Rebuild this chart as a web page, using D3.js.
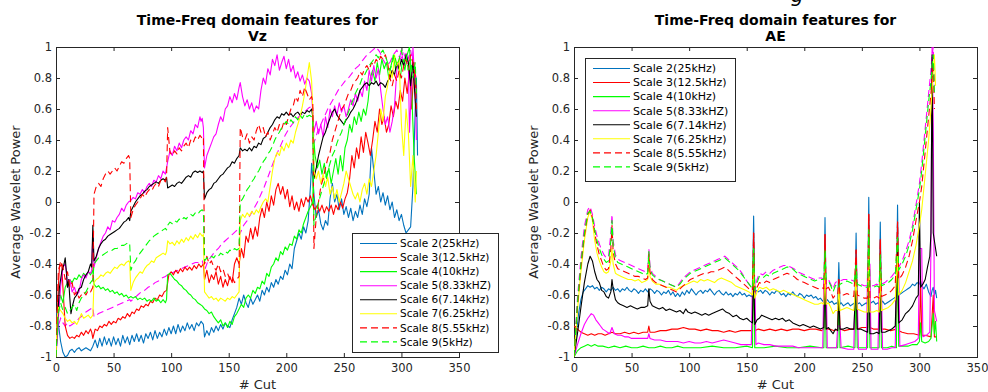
<!DOCTYPE html>
<html><head><meta charset="utf-8">
<script src="https://cdn.jsdelivr.net/npm/d3@7"></script>
<style>body{margin:0;background:#fff}svg{display:block}text{font-family:"DejaVu Sans",sans-serif}</style>
</head><body><svg id="c" width="988" height="392"></svg>
<script>
// ---------- tick labels / categories ----------
const xTickValues=[0,50,100,150,200,250,300,350];
const yTickValues=[-1,-0.8,-0.6,-0.4,-0.2,0,0.2,0.4,0.6,0.8,1];
const legendNames=["Scale 2(25kHz)","Scale 3(12.5kHz)","Scale 4(10kHz)","Scale 5(8.33kHZ)","Scale 6(7.14kHz)","Scale 7(6.25kHz)","Scale 8(5.55kHz)","Scale 9(5kHz)"];
const titleVz=["Time-Freq domain features for","Vz"];
const titleAE=["Time-Freq domain features for","AE"];

// ---------- Vz series: [cut, average wavelet power] ----------
const vzS2=[[0,-0.7],[2,-0.78],[4,-0.9],[6,-0.97],[8,-1.0],[10,-0.99],[12,-0.96],[14,-0.95],[16,-0.97],[18,-0.95],[20,-0.94],[22,-0.96],[24,-0.95],[26,-0.94],[28,-0.95],[30,-0.96],[32,-0.93],[34,-0.89],[36,-0.94],[38,-0.88],[40,-0.93],[42,-0.87],[44,-0.92],[46,-0.88],[48,-0.93],[50,-0.87],[52,-0.92],[54,-0.88],[56,-0.93],[58,-0.86],[60,-0.91],[62,-0.87],[64,-0.92],[66,-0.86],[68,-0.9],[70,-0.85],[72,-0.9],[74,-0.86],[76,-0.91],[78,-0.85],[80,-0.88],[82,-0.84],[84,-0.89],[86,-0.83],[88,-0.88],[90,-0.84],[92,-0.87],[94,-0.82],[96,-0.86],[98,-0.81],[100,-0.85],[102,-0.8],[104,-0.85],[106,-0.79],[108,-0.84],[110,-0.8],[112,-0.83],[114,-0.78],[116,-0.82],[118,-0.79],[120,-0.83],[122,-0.78],[124,-0.8],[126,-0.77],[128,-0.79],[129,-0.87],[131,-0.83],[133,-0.86],[135,-0.81],[137,-0.84],[139,-0.8],[141,-0.83],[143,-0.79],[145,-0.82],[147,-0.78],[149,-0.8],[151,-0.81],[153,-0.76],[155,-0.72],[157,-0.68],[159,-0.62],[161,-0.66],[163,-0.6],[165,-0.65],[167,-0.68],[169,-0.62],[171,-0.66],[173,-0.63],[175,-0.6],[177,-0.64],[179,-0.57],[181,-0.6],[183,-0.55],[185,-0.58],[187,-0.52],[189,-0.55],[191,-0.5],[193,-0.53],[195,-0.48],[197,-0.5],[199,-0.44],[201,-0.47],[203,-0.4],[205,-0.43],[207,-0.3],[209,-0.25],[211,-0.2],[213,-0.24],[215,-0.16],[217,-0.2],[219,-0.12],[221,0.1],[222,0.25],[224,0.05],[226,-0.1],[228,-0.05],[230,-0.14],[232,-0.18],[234,-0.12],[236,-0.15],[238,0.02],[240,0.12],[242,0.0],[244,0.05],[246,-0.05],[248,0.02],[250,-0.08],[252,-0.03],[254,-0.1],[256,-0.04],[258,-0.12],[260,-0.06],[262,-0.1],[264,-0.02],[266,-0.08],[268,0.02],[270,-0.03],[272,0.05],[274,0.35],[276,0.2],[278,0.05],[280,0.1],[282,0.0],[284,0.06],[286,-0.02],[288,0.04],[290,-0.05],[292,0.0],[294,-0.1],[296,-0.05],[298,-0.12],[300,-0.08],[302,-0.15],[304,-0.2],[306,-0.18],[308,-0.16],[310,0.1],[312,0.6],[313,0.8],[314,0.3]];
const vzS3=[[0,-1.0],[2,-0.55],[3,-0.42],[5,-0.4],[6,-0.55],[8,-0.8],[10,-0.86],[12,-0.88],[14,-0.87],[16,-0.88],[18,-0.86],[20,-0.87],[22,-0.84],[24,-0.86],[26,-0.83],[28,-0.85],[30,-0.82],[31,-0.84],[32,-0.88],[34,-0.82],[36,-0.83],[38,-0.8],[40,-0.81],[42,-0.79],[44,-0.8],[46,-0.77],[48,-0.79],[50,-0.77],[52,-0.78],[54,-0.75],[56,-0.76],[58,-0.74],[60,-0.75],[62,-0.72],[64,-0.74],[66,-0.71],[68,-0.72],[70,-0.69],[72,-0.7],[74,-0.67],[76,-0.68],[78,-0.66],[80,-0.67],[82,-0.64],[84,-0.65],[86,-0.62],[88,-0.63],[90,-0.6],[92,-0.61],[94,-0.58],[96,-0.57],[98,-0.47],[100,-0.45],[102,-0.47],[104,-0.44],[106,-0.46],[108,-0.43],[110,-0.45],[112,-0.42],[114,-0.44],[116,-0.42],[118,-0.44],[120,-0.41],[122,-0.43],[124,-0.4],[126,-0.42],[128,-0.4],[129,-0.5],[131,-0.44],[133,-0.52],[135,-0.47],[137,-0.5],[139,-0.45],[141,-0.53],[143,-0.48],[145,-0.55],[147,-0.5],[149,-0.54],[151,-0.48],[153,-0.52],[155,-0.4],[157,-0.36],[159,-0.4],[161,-0.3],[163,-0.36],[165,-0.22],[167,-0.26],[169,-0.17],[171,-0.24],[173,-0.16],[175,-0.22],[177,-0.1],[179,-0.04],[181,-0.1],[183,0.0],[185,-0.06],[187,0.04],[189,-0.02],[191,0.08],[193,0.12],[195,0.05],[197,0.1],[199,0.02],[201,0.08],[203,-0.03],[205,0.04],[207,-0.05],[209,0.0],[211,-0.06],[213,0.02],[215,-0.03],[217,0.03],[219,0.0],[221,0.04],[223,-0.02],[225,-0.05],[227,-0.02],[229,-0.06],[231,-0.02],[233,-0.07],[235,-0.03],[237,-0.06],[239,-0.02],[241,-0.08],[243,-0.02],[245,-0.05],[247,0.0],[249,-0.04],[251,0.02],[253,0.06],[255,0.15],[257,0.3],[259,0.22],[261,0.35],[263,0.28],[265,0.42],[267,0.32],[269,0.45],[271,0.38],[273,0.3],[275,0.4],[277,0.52],[279,0.45],[281,0.6],[283,0.5],[285,0.55],[287,0.45],[289,0.5],[291,0.62],[293,0.55],[295,0.65],[297,0.6],[299,0.72],[301,0.65],[303,0.8],[305,0.7],[307,0.85],[309,0.6],[311,0.9],[313,0.7]];
const vzS4=[[0,-1.0],[1,-0.8],[2,-0.68],[4,-0.6],[6,-0.65],[8,-0.55],[10,-0.52],[12,-0.5],[14,-0.52],[16,-0.49],[18,-0.5],[20,-0.47],[22,-0.49],[24,-0.46],[26,-0.48],[28,-0.45],[30,-0.47],[32,-0.44],[33,-0.53],[35,-0.55],[37,-0.54],[39,-0.56],[41,-0.55],[43,-0.57],[45,-0.56],[47,-0.58],[49,-0.57],[51,-0.59],[53,-0.58],[55,-0.6],[57,-0.59],[59,-0.61],[61,-0.6],[63,-0.62],[65,-0.61],[67,-0.62],[69,-0.61],[71,-0.63],[73,-0.62],[75,-0.63],[77,-0.62],[79,-0.64],[81,-0.63],[83,-0.64],[85,-0.62],[87,-0.64],[89,-0.63],[91,-0.65],[93,-0.63],[95,-0.65],[96,-0.63],[97,-0.47],[99,-0.46],[101,-0.48],[103,-0.5],[105,-0.51],[107,-0.53],[109,-0.54],[111,-0.56],[113,-0.57],[115,-0.59],[117,-0.6],[119,-0.62],[121,-0.63],[123,-0.65],[125,-0.66],[127,-0.67],[129,-0.69],[131,-0.7],[133,-0.72],[135,-0.71],[137,-0.74],[139,-0.76],[141,-0.78],[143,-0.76],[145,-0.8],[147,-0.78],[149,-0.81],[151,-0.77],[153,-0.79],[155,-0.74],[157,-0.72],[159,-0.69],[161,-0.66],[163,-0.68],[165,-0.62],[167,-0.6],[169,-0.62],[171,-0.57],[173,-0.59],[175,-0.55],[177,-0.56],[179,-0.51],[181,-0.53],[183,-0.46],[185,-0.48],[187,-0.42],[189,-0.4],[191,-0.36],[193,-0.38],[195,-0.32],[197,-0.34],[199,-0.29],[201,-0.31],[203,-0.27],[205,-0.28],[207,-0.22],[209,-0.24],[211,-0.18],[213,-0.2],[215,-0.14],[217,-0.1],[219,-0.06],[221,-0.03],[223,0.0],[224,0.4],[225,0.3],[227,0.22],[229,0.27],[231,0.18],[233,0.25],[235,0.15],[237,0.22],[239,0.12],[241,0.2],[243,0.28],[245,0.18],[247,0.3],[249,0.2],[251,0.35],[253,0.4],[255,0.5],[257,0.45],[259,0.55],[261,0.5],[263,0.58],[265,0.52],[267,0.6],[269,0.56],[271,0.65],[273,0.8],[275,0.85],[277,0.78],[279,0.9],[281,0.82],[283,0.92],[285,0.86],[287,0.9],[289,0.8],[291,0.88],[293,0.95],[295,0.85],[297,0.9],[299,0.8],[301,0.92],[303,0.85],[305,0.95],[307,1.0],[309,0.7],[311,0.3],[313,0.05]];
const vzS5=[[0,-1.0],[2,-0.75],[4,-0.55],[6,-0.42],[8,-0.4],[9,-0.45],[10,-0.55],[12,-0.5],[14,-0.58],[16,-0.55],[18,-0.6],[20,-0.58],[22,-0.5],[24,-0.47],[26,-0.49],[28,-0.45],[30,-0.46],[31,-0.44],[32,-0.2],[33,-0.42],[35,-0.36],[37,-0.3],[39,-0.26],[41,-0.22],[43,-0.2],[45,-0.16],[47,-0.18],[49,-0.12],[51,-0.13],[53,-0.1],[55,-0.08],[57,-0.04],[59,-0.06],[61,-0.02],[63,0.0],[65,0.01],[67,0.03],[69,0.02],[71,0.06],[73,0.05],[75,0.08],[77,0.06],[79,0.1],[81,0.12],[83,0.1],[85,0.14],[87,0.13],[89,0.17],[91,0.15],[93,0.2],[95,0.18],[97,0.26],[99,0.33],[101,0.3],[103,0.36],[105,0.33],[107,0.38],[109,0.35],[111,0.4],[113,0.42],[115,0.4],[117,0.46],[119,0.44],[121,0.5],[123,0.48],[125,0.55],[126,0.52],[127,0.54],[128,0.48],[129,0.22],[131,0.3],[133,0.34],[135,0.38],[137,0.42],[139,0.44],[141,0.5],[143,0.55],[145,0.52],[147,0.6],[149,0.62],[151,0.68],[153,0.64],[155,0.7],[157,0.66],[159,0.74],[160,0.77],[162,0.68],[164,0.62],[166,0.66],[168,0.6],[170,0.64],[172,0.58],[174,0.62],[176,0.6],[178,0.72],[180,0.8],[182,0.76],[184,0.86],[186,0.82],[188,0.92],[190,0.88],[192,0.95],[194,0.85],[196,0.9],[198,0.94],[200,0.86],[202,0.92],[204,0.84],[206,0.88],[208,0.8],[210,0.84],[212,0.78],[214,0.82],[216,0.76],[218,0.8],[220,0.78],[222,0.7],[224,0.45],[226,0.52],[228,0.44],[230,0.5],[232,0.42],[234,0.55],[236,0.48],[238,0.6],[240,0.55],[242,0.62],[244,0.56],[246,0.64],[248,0.58],[250,0.62],[252,0.55],[254,0.6],[256,0.66],[258,0.62],[260,0.7],[262,0.65],[264,0.72],[266,0.68],[268,0.78],[270,0.72],[272,0.85],[274,0.78],[276,0.88],[278,0.8],[280,0.86],[282,0.72],[284,0.6],[286,0.5],[288,0.55],[290,0.45],[292,0.52],[294,0.62],[296,0.85],[298,0.92],[300,0.98],[302,0.88],[304,0.96],[306,0.9],[307,0.45],[309,0.8],[310,1.0],[312,0.7],[313,0.4]];
const vzS6=[[0,-1.0],[1,-0.8],[3,-0.55],[5,-0.45],[7,-0.4],[8,-0.36],[9,-0.45],[10,-0.55],[11,-0.5],[12,-0.62],[13,-0.72],[14,-0.68],[16,-0.62],[18,-0.6],[20,-0.56],[22,-0.55],[24,-0.5],[26,-0.47],[28,-0.45],[30,-0.4],[31,-0.42],[32,-0.15],[33,-0.38],[35,-0.35],[37,-0.3],[39,-0.27],[41,-0.25],[43,-0.24],[45,-0.22],[47,-0.21],[49,-0.2],[51,-0.19],[53,-0.18],[55,-0.17],[57,-0.15],[59,-0.13],[61,-0.12],[63,-0.1],[64,-0.12],[65,-0.06],[67,-0.03],[69,0.0],[71,0.02],[73,0.04],[75,0.05],[77,0.07],[79,0.08],[81,0.1],[83,0.11],[85,0.12],[87,0.13],[89,0.12],[91,0.14],[93,0.15],[95,0.14],[96,0.16],[97,0.09],[99,0.1],[101,0.11],[103,0.1],[105,0.12],[107,0.13],[109,0.12],[111,0.14],[113,0.16],[115,0.17],[117,0.16],[119,0.19],[121,0.2],[123,0.19],[125,0.2],[127,0.19],[128,0.2],[129,0.02],[131,0.06],[133,0.08],[135,0.09],[137,0.12],[139,0.13],[141,0.15],[143,0.17],[145,0.18],[147,0.2],[149,0.22],[151,0.23],[153,0.26],[155,0.25],[157,0.28],[159,0.3],[160,0.35],[162,0.33],[164,0.34],[166,0.33],[168,0.35],[170,0.33],[172,0.36],[174,0.35],[176,0.38],[178,0.37],[180,0.41],[182,0.42],[184,0.45],[186,0.48],[188,0.5],[190,0.53],[192,0.55],[194,0.54],[196,0.57],[198,0.56],[200,0.58],[202,0.56],[204,0.57],[206,0.55],[208,0.57],[210,0.58],[212,0.56],[214,0.58],[216,0.57],[218,0.59],[220,0.58],[222,0.6],[223,0.55],[224,0.15],[226,0.22],[228,0.3],[230,0.36],[232,0.42],[234,0.45],[236,0.5],[238,0.54],[240,0.58],[242,0.6],[244,0.56],[246,0.54],[248,0.52],[250,0.5],[252,0.53],[254,0.55],[256,0.58],[258,0.6],[260,0.63],[262,0.67],[264,0.72],[266,0.74],[268,0.76],[270,0.77],[272,0.75],[274,0.77],[276,0.76],[278,0.78],[280,0.75],[282,0.77],[284,0.76],[286,0.74],[288,0.78],[290,0.8],[292,0.85],[294,0.82],[296,0.9],[298,0.86],[300,0.92],[302,0.88],[304,0.95],[306,0.9],[308,0.75],[310,0.9],[312,0.65],[313,0.55]];
const vzS7=[[0,-1.0],[1,-0.75],[2,-0.68],[4,-0.7],[6,-0.72],[8,-0.75],[10,-0.77],[12,-0.76],[14,-0.78],[16,-0.77],[18,-0.79],[20,-0.76],[22,-0.72],[24,-0.75],[26,-0.74],[28,-0.73],[30,-0.75],[32,-0.73],[33,-0.52],[35,-0.5],[37,-0.49],[39,-0.47],[41,-0.48],[43,-0.46],[45,-0.45],[47,-0.46],[49,-0.44],[51,-0.42],[53,-0.43],[55,-0.41],[57,-0.4],[59,-0.41],[61,-0.39],[63,-0.38],[64,-0.39],[65,-0.57],[67,-0.52],[69,-0.49],[71,-0.47],[73,-0.45],[75,-0.46],[77,-0.43],[79,-0.41],[81,-0.4],[83,-0.38],[85,-0.39],[87,-0.36],[89,-0.35],[91,-0.34],[93,-0.33],[95,-0.34],[96,-0.32],[97,-0.25],[99,-0.27],[101,-0.26],[103,-0.28],[105,-0.25],[107,-0.27],[109,-0.24],[111,-0.26],[113,-0.23],[115,-0.25],[117,-0.22],[119,-0.24],[121,-0.21],[123,-0.23],[125,-0.2],[127,-0.22],[128,-0.21],[129,-0.58],[131,-0.6],[133,-0.62],[135,-0.61],[137,-0.63],[139,-0.62],[141,-0.64],[143,-0.62],[145,-0.63],[147,-0.64],[149,-0.62],[151,-0.63],[153,-0.61],[155,-0.62],[157,-0.6],[159,-0.58],[160,-0.12],[162,-0.08],[164,-0.1],[166,-0.07],[168,-0.09],[170,-0.06],[172,-0.08],[174,-0.05],[176,-0.07],[178,-0.03],[180,0.0],[182,0.02],[184,0.0],[186,0.1],[188,0.2],[190,0.28],[192,0.32],[194,0.3],[196,0.36],[198,0.33],[200,0.38],[202,0.35],[204,0.4],[206,0.38],[208,0.45],[210,0.5],[212,0.55],[214,0.62],[216,0.7],[218,0.8],[220,0.9],[222,0.78],[223,0.6],[224,0.2],[226,0.15],[228,0.2],[230,0.12],[232,0.18],[234,0.1],[236,0.16],[238,0.05],[240,0.1],[242,0.02],[244,0.08],[246,0.0],[248,0.06],[250,0.12],[252,0.2],[254,0.15],[256,0.1],[258,0.05],[260,0.02],[262,0.06],[264,0.0],[266,0.08],[268,0.12],[270,0.05],[272,0.15],[274,0.1],[276,0.2],[278,0.3],[280,0.45],[282,0.6],[284,0.52],[286,0.68],[288,0.75],[290,0.85],[292,0.8],[294,0.95],[296,0.88],[298,0.92],[300,0.5],[302,0.3],[304,0.6],[306,0.45],[308,0.1],[310,0.3],[312,0.0],[313,0.2]];
const vzS8=[[0,-1.0],[1,-0.7],[2,-0.45],[4,-0.38],[6,-0.42],[8,-0.5],[10,-0.45],[12,-0.55],[14,-0.52],[16,-0.6],[18,-0.58],[20,-0.62],[22,-0.6],[24,-0.58],[26,-0.6],[28,-0.57],[30,-0.58],[32,-0.55],[33,0.05],[35,0.1],[37,0.12],[39,0.1],[41,0.15],[43,0.18],[45,0.2],[47,0.18],[49,0.2],[51,0.22],[53,0.2],[55,0.23],[57,0.26],[59,0.25],[61,0.28],[63,0.3],[64,0.28],[65,-0.1],[67,-0.05],[69,-0.02],[71,0.0],[73,0.02],[75,0.05],[77,0.03],[79,0.06],[81,0.08],[83,0.07],[85,0.1],[87,0.12],[89,0.1],[91,0.14],[93,0.15],[95,0.13],[96,0.16],[97,0.48],[99,0.32],[101,0.3],[103,0.33],[105,0.31],[107,0.35],[109,0.33],[111,0.36],[113,0.38],[115,0.35],[117,0.4],[119,0.38],[121,0.42],[123,0.4],[125,0.43],[127,0.41],[128,0.42],[129,-0.4],[131,-0.35],[133,-0.4],[135,-0.38],[137,-0.42],[139,-0.44],[141,-0.4],[143,-0.45],[145,-0.43],[147,-0.48],[149,-0.46],[151,-0.5],[153,-0.48],[155,-0.52],[157,-0.5],[159,-0.48],[160,0.48],[162,0.42],[164,0.4],[166,0.44],[168,0.38],[170,0.42],[172,0.4],[174,0.46],[176,0.5],[178,0.45],[180,0.48],[182,0.42],[184,0.45],[186,0.4],[188,0.44],[190,0.48],[192,0.45],[194,0.5],[196,0.47],[198,0.52],[200,0.5],[202,0.55],[204,0.6],[206,0.62],[208,0.68],[210,0.65],[212,0.72],[214,0.68],[216,0.74],[218,0.7],[220,0.66],[222,0.68],[223,0.65],[224,-0.3],[226,-0.1],[228,0.0],[230,0.1],[232,0.15],[234,0.22],[236,0.28],[238,0.32],[240,0.4],[242,0.45],[244,0.5],[246,0.55],[248,0.6],[250,0.62],[252,0.66],[254,0.7],[256,0.72],[258,0.76],[260,0.78],[262,0.8],[264,0.84],[266,0.82],[268,0.86],[270,0.88],[272,0.85],[274,0.9],[276,0.88],[278,0.92],[280,0.9],[282,0.94],[284,0.92],[286,0.95],[288,0.9],[290,0.8],[292,0.75],[294,0.82],[296,0.78],[298,0.85],[300,0.8],[302,0.88],[304,0.92],[306,0.85],[308,0.95],[310,0.9],[312,0.8],[313,0.6]];
const vzS9=[[0,-1.0],[1,-0.85],[2,-0.72],[4,-0.65],[6,-0.7],[8,-0.68],[10,-0.72],[12,-0.7],[14,-0.68],[16,-0.66],[18,-0.7],[20,-0.65],[22,-0.62],[24,-0.6],[26,-0.58],[28,-0.55],[30,-0.52],[32,-0.5],[33,-0.4],[35,-0.38],[37,-0.36],[39,-0.35],[41,-0.34],[43,-0.33],[45,-0.32],[47,-0.32],[49,-0.31],[51,-0.3],[53,-0.3],[55,-0.29],[57,-0.28],[59,-0.28],[61,-0.27],[63,-0.26],[64,-0.27],[65,-0.44],[67,-0.4],[69,-0.38],[71,-0.35],[73,-0.33],[75,-0.31],[77,-0.29],[79,-0.27],[81,-0.25],[83,-0.24],[85,-0.22],[87,-0.21],[89,-0.2],[91,-0.19],[93,-0.18],[95,-0.17],[96,-0.18],[97,-0.15],[99,-0.13],[101,-0.14],[103,-0.12],[105,-0.13],[107,-0.11],[109,-0.12],[111,-0.1],[113,-0.11],[115,-0.09],[117,-0.08],[119,-0.09],[121,-0.07],[123,-0.08],[125,-0.06],[127,-0.05],[128,-0.06],[129,-0.38],[131,-0.36],[133,-0.37],[135,-0.35],[137,-0.36],[139,-0.34],[141,-0.35],[143,-0.33],[145,-0.34],[147,-0.32],[149,-0.33],[151,-0.31],[153,-0.32],[155,-0.3],[157,-0.31],[159,-0.3],[160,0.0],[162,0.02],[164,0.05],[166,0.08],[168,0.1],[170,0.13],[172,0.15],[174,0.18],[176,0.2],[178,0.23],[180,0.26],[182,0.28],[184,0.31],[186,0.33],[188,0.36],[190,0.4],[192,0.43],[194,0.45],[196,0.48],[198,0.5],[200,0.52],[202,0.5],[204,0.53],[206,0.51],[208,0.55],[210,0.53],[212,0.56],[214,0.54],[216,0.57],[218,0.55],[220,0.56],[222,0.55],[223,0.54],[224,-0.15],[226,-0.08],[228,0.0],[230,0.05],[232,0.1],[234,0.15],[236,0.2],[238,0.25],[240,0.3],[242,0.33],[244,0.38],[246,0.42],[248,0.45],[250,0.5],[252,0.54],[254,0.58],[256,0.62],[258,0.66],[260,0.7],[262,0.73],[264,0.76],[266,0.8],[268,0.82],[270,0.85],[272,0.88],[274,0.9],[276,0.92],[278,0.95],[280,0.93],[282,0.96],[284,0.98],[286,0.94],[288,0.9],[290,0.85],[292,0.9],[294,0.95],[296,0.88],[298,0.92],[300,0.98],[302,0.9],[304,0.95],[306,0.85],[308,0.92],[310,0.8],[312,0.9],[313,0.7]];
const vzExtra=[[0,-1.0],[2,-0.8],[4,-0.75],[6,-0.78],[8,-0.8],[10,-0.78],[12,-0.8],[14,-0.79],[16,-0.78],[18,-0.77],[20,-0.75],[22,-0.74],[24,-0.72],[26,-0.71],[28,-0.7],[30,-0.69],[32,-0.68],[33,-0.74],[35,-0.73],[37,-0.72],[40,-0.71],[43,-0.7],[46,-0.69],[49,-0.68],[52,-0.67],[55,-0.66],[58,-0.65],[61,-0.64],[64,-0.63],[65,-0.64],[68,-0.62],[71,-0.6],[74,-0.58],[77,-0.57],[80,-0.55],[83,-0.54],[86,-0.52],[89,-0.51],[92,-0.49],[95,-0.48],[97,-0.47],[100,-0.46],[103,-0.45],[106,-0.44],[109,-0.43],[112,-0.42],[115,-0.41],[118,-0.4],[121,-0.39],[124,-0.39],[127,-0.38],[129,-0.44],[132,-0.38],[135,-0.35],[138,-0.32],[141,-0.3],[144,-0.27],[147,-0.25],[150,-0.23],[153,-0.21],[156,-0.19],[159,-0.17],[160,-0.2],[163,-0.15],[166,-0.12],[169,-0.08],[172,-0.04],[175,0.0],[178,0.05],[181,0.1],[184,0.16],[187,0.22],[190,0.28],[193,0.33],[196,0.38],[199,0.43],[202,0.47],[205,0.5],[208,0.53],[211,0.55],[214,0.57],[217,0.59],[220,0.61],[223,0.62],[224,0.38],[227,0.45],[230,0.5],[233,0.55],[236,0.6],[239,0.64],[242,0.68],[245,0.72],[248,0.75],[251,0.78],[254,0.8],[257,0.83],[260,0.86],[263,0.88],[266,0.91],[269,0.94],[272,0.96],[275,0.98],[278,1.0],[281,0.97],[284,0.92],[287,0.88],[290,0.9],[293,0.95],[296,0.98],[299,0.92],[302,0.96],[305,0.9],[308,0.98],[311,0.85],[313,0.8]];

// ---------- AE series: [cut, average wavelet power] ----------
const aeS2=[[0,-1.0],[2,-0.85],[4,-0.72],[6,-0.63],[8,-0.58],[10,-0.56],[12,-0.54],[14,-0.55],[16,-0.54],[18,-0.56],[20,-0.55],[22,-0.57],[24,-0.55],[26,-0.56],[28,-0.58],[30,-0.56],[32,-0.57],[34,-0.55],[36,-0.57],[38,-0.56],[40,-0.58],[42,-0.56],[44,-0.57],[46,-0.55],[48,-0.57],[50,-0.58],[52,-0.56],[54,-0.57],[56,-0.59],[58,-0.57],[60,-0.58],[62,-0.56],[64,-0.58],[66,-0.56],[68,-0.57],[70,-0.59],[72,-0.57],[74,-0.58],[76,-0.6],[78,-0.58],[80,-0.59],[82,-0.57],[84,-0.6],[86,-0.58],[88,-0.61],[90,-0.59],[92,-0.61],[94,-0.58],[96,-0.6],[98,-0.57],[100,-0.59],[102,-0.56],[104,-0.58],[106,-0.6],[108,-0.58],[110,-0.57],[112,-0.59],[114,-0.57],[116,-0.58],[118,-0.56],[120,-0.58],[122,-0.6],[124,-0.58],[126,-0.57],[128,-0.59],[130,-0.6],[132,-0.58],[134,-0.6],[136,-0.59],[138,-0.61],[140,-0.59],[142,-0.6],[144,-0.58],[146,-0.6],[148,-0.59],[150,-0.61],[152,-0.6],[154,-0.61],[155,-0.6],[156,-0.09],[157,-0.6],[158,-0.57],[160,-0.58],[162,-0.57],[164,-0.59],[166,-0.57],[168,-0.58],[170,-0.6],[172,-0.58],[174,-0.59],[176,-0.57],[178,-0.58],[180,-0.6],[182,-0.59],[184,-0.61],[186,-0.59],[188,-0.6],[190,-0.58],[192,-0.6],[194,-0.61],[196,-0.59],[198,-0.6],[200,-0.62],[202,-0.6],[204,-0.61],[206,-0.6],[208,-0.62],[210,-0.61],[212,-0.63],[214,-0.62],[216,-0.64],[217,-0.63],[218,-0.1],[219,-0.64],[220,-0.63],[222,-0.65],[224,-0.64],[226,-0.66],[228,-0.65],[229,-0.66],[230,-0.39],[231,-0.66],[232,-0.65],[234,-0.67],[236,-0.66],[238,-0.65],[240,-0.67],[242,-0.66],[244,-0.65],[245,-0.2],[246,-0.66],[248,-0.65],[250,-0.67],[252,-0.66],[254,-0.65],[255,-0.66],[256,0.03],[257,-0.66],[258,-0.65],[260,-0.64],[262,-0.66],[264,-0.65],[265,-0.66],[266,-0.13],[267,-0.65],[268,-0.64],[270,-0.66],[272,-0.65],[274,-0.64],[276,-0.63],[278,-0.62],[280,-0.61],[281,-0.02],[282,-0.6],[284,-0.59],[286,-0.58],[288,-0.57],[290,-0.56],[292,-0.55],[294,-0.53],[296,-0.54],[298,-0.52],[300,-0.53],[301,-0.51],[302,-0.54],[304,-0.56],[306,-0.53],[308,-0.58],[310,-0.61],[311,-0.57],[312,-0.55],[313,-0.6],[314,-0.57],[315,-0.62]];
const aeS3=[[0,-0.8],[3,-0.82],[6,-0.84],[9,-0.85],[12,-0.86],[15,-0.85],[18,-0.86],[21,-0.85],[24,-0.85],[27,-0.86],[30,-0.85],[33,-0.84],[36,-0.85],[40,-0.85],[44,-0.84],[48,-0.85],[52,-0.84],[56,-0.85],[60,-0.84],[64,-0.84],[65,-0.8],[66,-0.84],[70,-0.84],[75,-0.83],[80,-0.83],[85,-0.82],[90,-0.82],[95,-0.81],[100,-0.82],[105,-0.82],[110,-0.83],[115,-0.82],[120,-0.83],[125,-0.83],[130,-0.84],[135,-0.83],[140,-0.84],[145,-0.83],[150,-0.83],[155,-0.83],[156,-0.2],[157,-0.83],[160,-0.82],[165,-0.83],[170,-0.82],[175,-0.83],[180,-0.82],[185,-0.83],[190,-0.82],[195,-0.82],[200,-0.83],[205,-0.82],[210,-0.82],[215,-0.83],[217,-0.82],[218,-0.21],[219,-0.82],[222,-0.82],[226,-0.83],[229,-0.82],[230,-0.5],[231,-0.82],[235,-0.83],[240,-0.82],[244,-0.82],[245,-0.31],[246,-0.82],[250,-0.81],[255,-0.81],[256,-0.08],[257,-0.81],[260,-0.82],[265,-0.82],[266,-0.24],[267,-0.82],[270,-0.82],[275,-0.83],[280,-0.82],[281,-0.13],[282,-0.83],[285,-0.84],[290,-0.85],[295,-0.85],[300,-0.86],[301,-0.5],[302,-0.86],[305,-0.86],[310,-0.87],[312,-0.6],[313,-0.87],[315,-0.87]];
const aeS4=[[0,-1.0],[3,-0.96],[6,-0.94],[9,-0.93],[12,-0.92],[15,-0.93],[18,-0.92],[21,-0.93],[25,-0.93],[30,-0.94],[35,-0.93],[40,-0.94],[45,-0.93],[50,-0.94],[55,-0.94],[60,-0.93],[65,-0.94],[70,-0.94],[75,-0.93],[80,-0.94],[85,-0.94],[90,-0.93],[95,-0.94],[100,-0.94],[110,-0.94],[120,-0.93],[130,-0.94],[140,-0.94],[150,-0.93],[155,-0.94],[156,-0.3],[157,-0.94],[165,-0.94],[175,-0.93],[185,-0.94],[195,-0.94],[205,-0.93],[215,-0.94],[217,-0.94],[218,-0.31],[219,-0.94],[225,-0.94],[229,-0.94],[230,-0.6],[231,-0.94],[238,-0.93],[244,-0.94],[245,-0.41],[246,-0.94],[250,-0.94],[255,-0.94],[256,-0.18],[257,-0.94],[262,-0.94],[265,-0.94],[266,-0.34],[267,-0.94],[272,-0.94],[276,-0.93],[280,-0.94],[281,-0.23],[282,-0.93],[286,-0.93],[290,-0.93],[294,-0.92],[298,-0.92],[300,-0.9],[301,-0.78],[302,-0.9],[305,-0.91],[308,-0.9],[310,-0.88],[311,-0.8],[312,-0.72],[313,-0.85],[314,-0.77],[315,-0.9]];
const aeS5=[[0,-1.0],[3,-0.92],[6,-0.85],[9,-0.79],[12,-0.75],[15,-0.72],[17,-0.73],[19,-0.76],[21,-0.78],[23,-0.8],[25,-0.82],[27,-0.83],[29,-0.84],[31,-0.85],[33,-0.81],[35,-0.85],[38,-0.86],[41,-0.86],[44,-0.87],[47,-0.87],[50,-0.88],[55,-0.88],[60,-0.88],[64,-0.88],[65,-0.85],[66,-0.88],[70,-0.89],[75,-0.89],[80,-0.9],[85,-0.9],[90,-0.9],[95,-0.91],[100,-0.9],[105,-0.91],[110,-0.91],[115,-0.9],[120,-0.91],[125,-0.9],[130,-0.89],[135,-0.9],[140,-0.91],[145,-0.92],[150,-0.92],[154,-0.92],[155,-0.5],[157,-0.5],[158,-0.92],[160,-0.91],[165,-0.92],[170,-0.92],[175,-0.93],[180,-0.93],[185,-0.93],[190,-0.93],[195,-0.94],[200,-0.94],[205,-0.94],[210,-0.94],[216,-0.94],[217,-0.5],[219,-0.5],[220,-0.94],[225,-0.94],[228,-0.94],[229,-0.8],[231,-0.8],[232,-0.94],[238,-0.95],[243,-0.95],[244,-0.6],[246,-0.6],[247,-0.95],[254,-0.95],[255,-0.4],[257,-0.4],[258,-0.95],[264,-0.95],[265,-0.55],[267,-0.55],[268,-0.95],[272,-0.95],[276,-0.94],[279,-0.94],[280,-0.45],[282,-0.45],[283,-0.93],[288,-0.92],[292,-0.91],[296,-0.9],[299,-0.88],[300,-0.3],[302,-0.3],[303,-0.87],[306,-0.86],[309,-0.84],[310,-0.3],[311,1.0],[312,0.5],[313,-0.7],[315,-0.77]];
const aeS6=[[0,-1.0],[3,-0.85],[6,-0.68],[9,-0.52],[12,-0.4],[14,-0.35],[16,-0.38],[18,-0.45],[20,-0.5],[22,-0.52],[24,-0.57],[26,-0.58],[28,-0.61],[30,-0.62],[32,-0.58],[33,-0.5],[34,-0.56],[36,-0.63],[38,-0.65],[40,-0.66],[43,-0.67],[46,-0.68],[49,-0.67],[52,-0.68],[55,-0.69],[58,-0.68],[61,-0.68],[64,-0.67],[65,-0.56],[66,-0.64],[68,-0.67],[71,-0.68],[74,-0.69],[77,-0.68],[80,-0.7],[83,-0.69],[86,-0.7],[89,-0.71],[92,-0.7],[95,-0.72],[97,-0.69],[99,-0.71],[102,-0.72],[105,-0.71],[108,-0.72],[111,-0.73],[114,-0.72],[117,-0.73],[120,-0.72],[123,-0.71],[126,-0.7],[129,-0.69],[132,-0.71],[135,-0.72],[138,-0.74],[141,-0.73],[144,-0.75],[147,-0.76],[150,-0.75],[153,-0.77],[155,-0.78],[156,-0.4],[157,-0.79],[159,-0.76],[161,-0.75],[163,-0.73],[166,-0.74],[169,-0.75],[172,-0.76],[175,-0.75],[178,-0.76],[181,-0.75],[184,-0.77],[187,-0.76],[190,-0.78],[193,-0.79],[196,-0.8],[199,-0.79],[202,-0.8],[205,-0.81],[208,-0.8],[211,-0.81],[214,-0.82],[217,-0.81],[218,-0.45],[219,-0.82],[221,-0.81],[223,-0.83],[225,-0.85],[227,-0.82],[229,-0.83],[230,-0.6],[231,-0.82],[234,-0.82],[237,-0.81],[240,-0.82],[243,-0.82],[245,-0.5],[246,-0.82],[249,-0.82],[252,-0.83],[255,-0.84],[256,-0.3],[257,-0.85],[260,-0.85],[263,-0.84],[265,-0.85],[266,-0.45],[267,-0.84],[270,-0.84],[273,-0.83],[276,-0.82],[279,-0.8],[281,-0.3],[282,-0.78],[285,-0.76],[288,-0.72],[291,-0.7],[294,-0.67],[297,-0.62],[299,-0.6],[300,0.0],[301,-0.55],[303,-0.53],[305,-0.5],[307,-0.42],[309,-0.35],[310,-0.2],[311,0.95],[312,-0.2],[313,-0.25],[314,-0.3],[315,-0.35]];
const aeS7=[[0,-1.0],[3,-0.7],[6,-0.45],[9,-0.25],[12,-0.1],[14,-0.06],[16,-0.12],[18,-0.25],[20,-0.33],[22,-0.38],[24,-0.42],[26,-0.45],[28,-0.46],[30,-0.45],[32,-0.38],[33,-0.3],[34,-0.4],[36,-0.46],[38,-0.47],[41,-0.48],[44,-0.49],[47,-0.5],[50,-0.5],[53,-0.51],[56,-0.5],[59,-0.52],[62,-0.51],[64,-0.5],[65,-0.38],[66,-0.48],[68,-0.51],[71,-0.53],[74,-0.53],[77,-0.54],[80,-0.55],[83,-0.55],[86,-0.56],[89,-0.57],[92,-0.55],[95,-0.54],[98,-0.53],[101,-0.52],[104,-0.51],[107,-0.52],[110,-0.5],[113,-0.51],[116,-0.5],[119,-0.51],[122,-0.52],[125,-0.5],[128,-0.49],[131,-0.5],[134,-0.51],[137,-0.52],[140,-0.54],[143,-0.55],[146,-0.56],[149,-0.57],[152,-0.58],[155,-0.6],[156,-0.4],[157,-0.62],[159,-0.58],[161,-0.55],[164,-0.56],[167,-0.55],[170,-0.57],[173,-0.56],[176,-0.57],[179,-0.58],[182,-0.57],[185,-0.58],[188,-0.59],[191,-0.6],[194,-0.61],[197,-0.62],[200,-0.63],[203,-0.64],[206,-0.65],[209,-0.66],[212,-0.66],[215,-0.65],[217,-0.66],[218,-0.42],[219,-0.66],[221,-0.65],[223,-0.68],[225,-0.72],[227,-0.7],[229,-0.7],[230,-0.55],[231,-0.7],[234,-0.69],[237,-0.68],[240,-0.69],[243,-0.7],[245,-0.5],[246,-0.69],[249,-0.7],[252,-0.71],[255,-0.71],[256,-0.3],[257,-0.71],[260,-0.71],[263,-0.7],[265,-0.71],[266,-0.45],[267,-0.7],[270,-0.69],[273,-0.68],[276,-0.66],[279,-0.63],[281,-0.35],[282,-0.6],[285,-0.57],[288,-0.52],[291,-0.45],[294,-0.38],[297,-0.28],[300,-0.15],[302,-0.05],[304,0.1],[306,0.25],[308,0.4],[310,0.6],[312,0.85],[313,0.95],[314,0.75]];
const aeS8=[[0,-1.0],[3,-0.68],[6,-0.42],[9,-0.22],[12,-0.08],[14,-0.05],[16,-0.1],[18,-0.2],[20,-0.28],[22,-0.34],[24,-0.38],[26,-0.42],[28,-0.44],[30,-0.43],[32,-0.3],[33,-0.15],[34,-0.32],[36,-0.4],[38,-0.43],[41,-0.44],[44,-0.45],[47,-0.46],[50,-0.47],[53,-0.48],[56,-0.48],[59,-0.49],[62,-0.5],[64,-0.49],[65,-0.33],[66,-0.45],[68,-0.5],[71,-0.52],[74,-0.53],[77,-0.54],[80,-0.55],[83,-0.56],[86,-0.57],[89,-0.58],[92,-0.56],[95,-0.54],[98,-0.52],[101,-0.5],[104,-0.49],[107,-0.48],[110,-0.47],[113,-0.46],[116,-0.46],[119,-0.45],[122,-0.45],[125,-0.44],[128,-0.43],[131,-0.42],[134,-0.44],[137,-0.46],[140,-0.48],[143,-0.5],[146,-0.52],[149,-0.54],[152,-0.56],[155,-0.57],[156,-0.2],[157,-0.58],[159,-0.55],[161,-0.52],[164,-0.53],[167,-0.51],[170,-0.52],[173,-0.5],[176,-0.49],[179,-0.48],[182,-0.47],[185,-0.46],[188,-0.47],[191,-0.48],[194,-0.5],[197,-0.51],[200,-0.52],[203,-0.53],[206,-0.54],[209,-0.55],[212,-0.56],[215,-0.55],[217,-0.56],[218,-0.21],[219,-0.56],[221,-0.55],[223,-0.58],[225,-0.62],[227,-0.6],[229,-0.6],[230,-0.5],[231,-0.6],[234,-0.6],[237,-0.59],[240,-0.6],[243,-0.61],[245,-0.31],[246,-0.6],[249,-0.61],[252,-0.62],[255,-0.62],[256,-0.08],[257,-0.62],[260,-0.62],[263,-0.61],[265,-0.62],[266,-0.24],[267,-0.61],[270,-0.6],[273,-0.59],[276,-0.57],[279,-0.54],[281,-0.13],[282,-0.5],[285,-0.47],[288,-0.42],[291,-0.35],[294,-0.25],[297,-0.12],[300,0.0],[302,0.1],[304,0.25],[306,0.4],[308,0.55],[310,0.7],[311,0.8],[312,0.9],[313,0.6]];
const aeS9=[[0,-1.0],[3,-0.65],[6,-0.4],[9,-0.2],[12,-0.07],[14,-0.06],[16,-0.1],[18,-0.18],[20,-0.25],[22,-0.3],[24,-0.34],[26,-0.37],[28,-0.39],[30,-0.38],[32,-0.25],[33,-0.12],[34,-0.28],[36,-0.36],[38,-0.39],[41,-0.4],[44,-0.41],[47,-0.42],[50,-0.43],[53,-0.44],[56,-0.45],[59,-0.46],[62,-0.47],[64,-0.46],[65,-0.32],[66,-0.43],[68,-0.47],[71,-0.49],[74,-0.5],[77,-0.51],[80,-0.52],[83,-0.53],[86,-0.54],[89,-0.55],[92,-0.53],[95,-0.5],[98,-0.48],[101,-0.46],[104,-0.45],[107,-0.44],[110,-0.43],[113,-0.42],[116,-0.41],[119,-0.4],[122,-0.39],[125,-0.38],[128,-0.37],[131,-0.36],[134,-0.38],[137,-0.4],[140,-0.42],[143,-0.44],[146,-0.47],[149,-0.5],[152,-0.53],[155,-0.56],[156,-0.3],[157,-0.57],[159,-0.52],[161,-0.48],[164,-0.49],[167,-0.47],[170,-0.48],[173,-0.46],[176,-0.45],[179,-0.44],[182,-0.43],[185,-0.42],[188,-0.42],[191,-0.44],[194,-0.46],[197,-0.47],[200,-0.48],[203,-0.49],[206,-0.5],[209,-0.51],[212,-0.5],[215,-0.5],[217,-0.5],[218,-0.31],[219,-0.5],[221,-0.51],[223,-0.54],[225,-0.58],[227,-0.54],[229,-0.53],[230,-0.55],[231,-0.53],[234,-0.52],[237,-0.51],[240,-0.52],[243,-0.53],[245,-0.41],[246,-0.53],[249,-0.54],[252,-0.55],[255,-0.55],[256,-0.18],[257,-0.55],[260,-0.55],[263,-0.54],[265,-0.55],[266,-0.34],[267,-0.54],[270,-0.53],[273,-0.52],[276,-0.5],[279,-0.47],[281,-0.23],[282,-0.44],[285,-0.4],[288,-0.35],[291,-0.28],[294,-0.18],[297,-0.05],[300,0.08],[302,0.2],[304,0.35],[306,0.5],[308,0.65],[310,0.78],[311,0.88],[312,0.95],[313,0.7]];
const aeExtra=[[0,-1.0],[3,-0.62],[6,-0.36],[9,-0.16],[12,-0.05],[14,-0.03],[16,-0.08],[18,-0.16],[20,-0.22],[22,-0.27],[24,-0.31],[26,-0.34],[28,-0.36],[30,-0.35],[32,-0.2],[33,-0.08],[34,-0.25],[36,-0.34],[38,-0.37],[41,-0.38],[44,-0.39],[47,-0.4],[50,-0.41],[53,-0.42],[56,-0.43],[59,-0.44],[62,-0.45],[64,-0.44],[65,-0.3],[66,-0.41],[68,-0.46],[71,-0.48],[74,-0.5],[77,-0.51],[80,-0.52],[83,-0.53],[86,-0.54],[89,-0.55],[92,-0.52],[95,-0.49],[98,-0.47],[101,-0.45],[104,-0.44],[107,-0.43],[110,-0.42],[113,-0.41],[116,-0.4],[119,-0.39],[122,-0.38],[125,-0.37],[128,-0.36],[131,-0.35],[134,-0.37],[137,-0.39],[140,-0.41],[143,-0.43],[146,-0.46],[149,-0.5],[152,-0.53],[155,-0.56],[157,-0.57],[159,-0.5],[161,-0.46],[164,-0.47],[167,-0.45],[170,-0.46],[173,-0.44],[176,-0.43],[179,-0.42],[182,-0.41],[185,-0.41],[188,-0.42],[191,-0.43],[194,-0.45],[197,-0.46],[200,-0.47],[203,-0.48],[206,-0.49],[209,-0.5],[212,-0.49],[215,-0.49],[217,-0.5],[219,-0.5],[221,-0.5],[223,-0.53],[225,-0.56],[227,-0.52],[229,-0.51],[231,-0.51],[234,-0.5],[237,-0.5],[240,-0.5],[243,-0.51],[246,-0.52],[249,-0.53],[252,-0.54],[255,-0.54],[257,-0.54],[260,-0.54],[263,-0.53],[265,-0.54],[267,-0.53],[270,-0.52],[273,-0.5],[276,-0.48],[279,-0.45],[282,-0.42],[285,-0.38],[288,-0.32],[291,-0.25],[294,-0.15],[297,-0.02],[300,0.12],[302,0.25],[304,0.4],[306,0.55],[308,0.7],[310,0.85],[311,0.95],[312,1.0],[313,0.75]];

// ---------- styles ----------
const lineColors=["#0072BD","#FF0000","#00FF00","#FF00FF","#000000","#FFFF00","#FF0000","#00FF00"];
const lineDash=[null,null,null,null,null,null,"7,4","7,4"];
const extraColor="#FF00FF";
const AX="#262626";

const svg=d3.select("#c");
const fmtY=d=>String(+d.toFixed(1));

function drawPanel(cfg){
  const x=d3.scaleLinear().domain([xTickValues[0],xTickValues[xTickValues.length-1]]).range([cfg.x0,cfg.x1]);
  const y=d3.scaleLinear().domain([yTickValues[0],yTickValues[yTickValues.length-1]]).range([cfg.y0,cfg.y1]);
  const g=svg.append("g");
  const clipId="clip"+cfg.id;
  svg.append("clipPath").attr("id",clipId).append("rect")
    .attr("x",cfg.x0).attr("y",cfg.y1).attr("width",cfg.x1-cfg.x0).attr("height",cfg.y0-cfg.y1);

  const styleAxis=a=>{a.select(".domain").remove();a.selectAll(".tick line").attr("stroke",AX);
    a.selectAll("text").attr("fill",AX).attr("font-size",11.5).attr("font-family","DejaVu Sans");};
  g.append("g").attr("transform",`translate(0,${cfg.y0})`)
    .call(d3.axisBottom(x).tickValues(xTickValues).tickSizeInner(-4).tickSizeOuter(0).tickPadding(7).tickFormat(d3.format("d"))).call(styleAxis);
  g.append("g").attr("transform",`translate(0,${cfg.y1})`)
    .call(d3.axisTop(x).tickValues(xTickValues).tickSizeInner(-4).tickSizeOuter(0).tickFormat("")).call(styleAxis);
  g.append("g").attr("transform",`translate(${cfg.x0},0)`)
    .call(d3.axisLeft(y).tickValues(yTickValues).tickSizeInner(-4).tickSizeOuter(0).tickPadding(4).tickFormat(fmtY)).call(styleAxis);
  g.append("g").attr("transform",`translate(${cfg.x1},0)`)
    .call(d3.axisRight(y).tickValues(yTickValues).tickSizeInner(-4).tickSizeOuter(0).tickFormat("")).call(styleAxis);
  g.append("rect").attr("x",cfg.x0+0.5).attr("y",cfg.y1+0.5).attr("width",cfg.x1-cfg.x0).attr("height",cfg.y0-cfg.y1)
    .attr("fill","none").attr("stroke",AX).attr("stroke-width",1);

  const line=d3.line().x(d=>x(d[0])).y(d=>y(d[1]));
  const lg=g.append("g").attr("clip-path",`url(#${clipId})`);
  lg.append("path").datum(cfg.extra).attr("d",line).attr("fill","none")
    .attr("stroke",extraColor).attr("stroke-width",1.1).attr("stroke-dasharray","7,4");
  cfg.series.forEach((s,i)=>{
    lg.append("path").datum(s).attr("d",line).attr("fill","none")
      .attr("stroke",lineColors[i]).attr("stroke-width",1.1)
      .attr("stroke-dasharray",lineDash[i]).attr("stroke-linejoin","round");
  });

  // titles
  const cx=(cfg.x0+cfg.x1)/2;
  cfg.title.forEach((t,i)=>g.append("text").attr("x",cx).attr("y",25+i*16).attr("text-anchor","middle")
    .attr("font-weight","bold").attr("font-size",14).attr("fill","#000").text(t));
  g.append("text").attr("x",cx).attr("y",389).attr("text-anchor","middle").attr("font-size",13).attr("fill",AX).text("# Cut");
  g.append("text").attr("transform",`translate(${cfg.yLabelX},${(cfg.y0+cfg.y1)/2}) rotate(-90)`)
    .attr("text-anchor","middle").attr("font-size",13).attr("fill",AX).text("Average Wavelet Power");

  // legend
  const L=cfg.legend;
  const leg=g.append("g");
  leg.append("rect").attr("x",L.x+0.5).attr("y",L.y+0.5).attr("width",L.w).attr("height",L.h)
    .attr("fill","#fff").attr("stroke",AX).attr("stroke-width",1);
  legendNames.forEach((n,i)=>{
    const yy=L.y+10.5+i*14.06;
    leg.append("line").attr("x1",L.x+8).attr("x2",L.x+45).attr("y1",yy).attr("y2",yy)
      .attr("stroke",lineColors[i]).attr("stroke-width",1.1).attr("stroke-dasharray",lineDash[i]);
    leg.append("text").attr("x",L.x+48).attr("y",yy).attr("dy","0.35em").attr("font-size",L.fs).attr("fill","#000").text(n);
  });
}

drawPanel({id:"vz",x0:56,x1:459,y0:357,y1:47,yLabelX:20,title:titleVz,
  series:[vzS2,vzS3,vzS4,vzS5,vzS6,vzS7,vzS8,vzS9],extra:vzExtra,
  legend:{x:352,y:233,w:146,h:119,fs:10.5}});
drawPanel({id:"ae",x0:574,x1:977,y0:357,y1:47,yLabelX:538,title:titleAE,
  series:[aeS2,aeS3,aeS4,aeS5,aeS6,aeS7,aeS8,aeS9],extra:aeExtra,
  legend:{x:585,y:58,w:150,h:123,fs:11}});

// partial glyph cut off at the top edge of the figure
svg.append("text").attr("x",797).attr("y",2).attr("text-anchor","middle").attr("font-family","DejaVu Serif")
  .attr("font-style","italic").attr("font-size",20).attr("fill","#000").text("g");
</script>
</body></html>
